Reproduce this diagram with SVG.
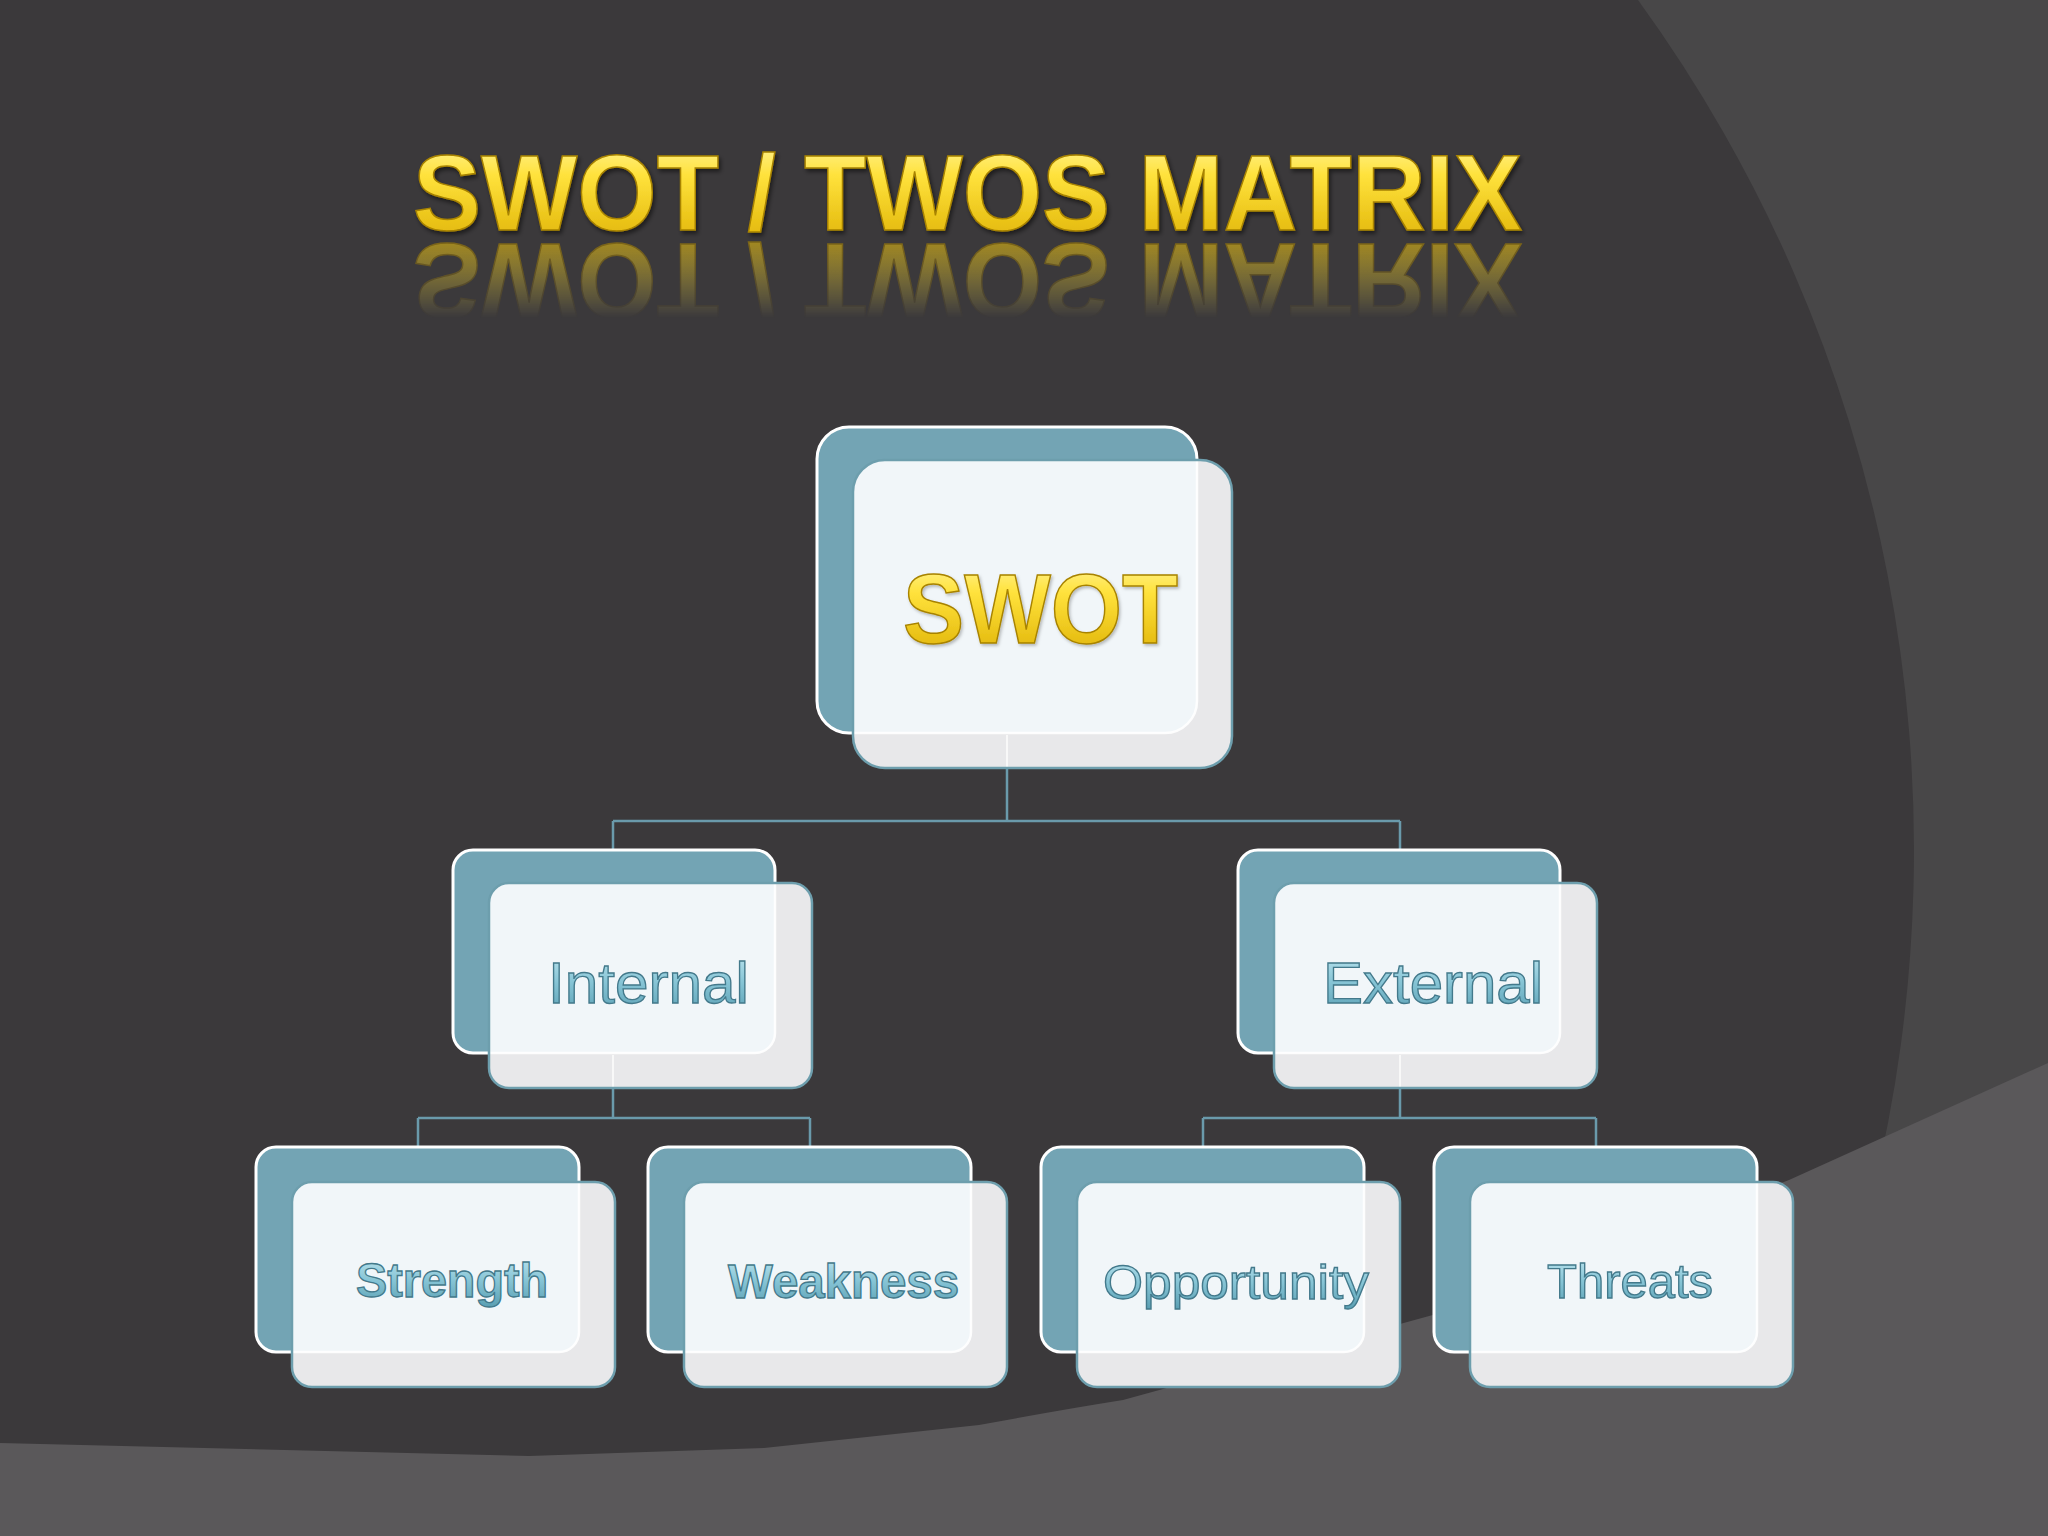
<svg xmlns="http://www.w3.org/2000/svg" width="2048" height="1536" viewBox="0 0 2048 1536">
<defs>
<style>
.back{fill:#73a4b4;stroke:#ffffff;stroke-width:3}
.front{fill:#e8e8ea}
.frontline{fill:none;stroke:#6d9ead;stroke-width:2.5}
.overlap{fill:#f1f6f9}
.edge{fill:none;stroke:#ffffff;stroke-width:2.5;opacity:0.9}
.thru{stroke:#ffffff;stroke-width:2;opacity:0.7}
.conn{fill:none;stroke:#6a9aab;stroke-width:2.5}
.gold{font-family:"Liberation Sans",Arial,sans-serif;font-weight:bold;fill:url(#goldGrad);stroke:#a88300;stroke-width:1.5}
.blue{font-family:"Liberation Sans",Arial,sans-serif;fill:url(#blueGrad);stroke:#43798b;stroke-width:1.3}
.bold{font-weight:bold}
</style>
<linearGradient id="goldGrad" x1="0" y1="0" x2="0" y2="1">
<stop offset="0" stop-color="#fff7a8"/>
<stop offset="0.35" stop-color="#ffe23c"/>
<stop offset="1" stop-color="#dcae00"/>
</linearGradient>
<linearGradient id="blueGrad" x1="0" y1="0" x2="0" y2="1">
<stop offset="0" stop-color="#bfe6f0"/>
<stop offset="0.5" stop-color="#86c4d5"/>
<stop offset="1" stop-color="#5a9fb3"/>
</linearGradient>
<linearGradient id="reflFade" gradientUnits="userSpaceOnUse" x1="0" y1="242" x2="0" y2="318">
<stop offset="0" stop-color="#ffffff" stop-opacity="0.6"/>
<stop offset="1" stop-color="#ffffff" stop-opacity="0"/>
</linearGradient>
<mask id="reflMask" maskUnits="userSpaceOnUse" x="0" y="0" width="2048" height="400">
<rect x="0" y="236" width="2048" height="100" fill="url(#reflFade)"/>
</mask>
<filter id="shadow" x="-5%" y="-20%" width="110%" height="150%">
<feDropShadow dx="2" dy="3" stdDeviation="2" flood-color="#000000" flood-opacity="0.5"/>
</filter>
<filter id="softShadow" x="-5%" y="-20%" width="110%" height="150%">
<feDropShadow dx="1.5" dy="2" stdDeviation="1.5" flood-color="#000000" flood-opacity="0.25"/>
</filter>
</defs>

<g id="background">
<rect x="0" y="0" width="2048" height="1536" fill="#3b393b"/>
<path d="M1638,0 A1447,1447 0 0 1 1871,1200 L2048,1200 L2048,0 Z" fill="#484748"/>
<path d="M0,1443 L529,1456 L764,1448 L979,1425 Q1060,1410 1123,1400 L1440,1313 L1789,1180 L2048,1063 L2048,1536 L0,1536 Z" fill="#5a585a"/>
</g>

<g id="title">
<text class="gold" x="413" y="230" font-size="107" textLength="1109" lengthAdjust="spacingAndGlyphs" filter="url(#shadow)">SWOT / TWOS MATRIX</text>
<g mask="url(#reflMask)">
<text class="gold" x="413" y="230" font-size="107" textLength="1109" lengthAdjust="spacingAndGlyphs" transform="translate(0,474) scale(1,-1)" stroke="none">SWOT / TWOS MATRIX</text>
</g>
</g>

<g id="connectors">
<path class="conn" d="M1007,768 V821 M613,821 H1400 M613,821 V850 M1400,821 V850"/>
<path class="conn" d="M613,1088 V1118 M418,1118 H810 M418,1118 V1147 M810,1118 V1147"/>
<path class="conn" d="M1400,1088 V1118 M1203,1118 H1596 M1203,1118 V1147 M1596,1118 V1147"/>
</g>

<g id="node-swot">
<rect class="back" x="817" y="427" width="380" height="306" rx="32"/>
<rect class="front" x="853" y="460" width="379" height="308" rx="32"/>
<path class="overlap" d="M853,492 A32,32 0 0 1 885,460 L1197,460 L1197,701 A32,32 0 0 1 1165,733 L853,733 Z"/>
<path class="edge" d="M1197,461 V701 A32,32 0 0 1 1165,733 H854"/>
<line class="thru" x1="1007" y1="735" x2="1007" y2="767"/>
<rect class="frontline" x="853" y="460" width="379" height="308" rx="32"/>
<text class="gold" x="903" y="643" font-size="98" textLength="275" lengthAdjust="spacingAndGlyphs" filter="url(#softShadow)">SWOT</text>
</g>

<g id="node-internal">
<rect class="back" x="453" y="850" width="322" height="203" rx="20"/>
<rect class="front" x="489" y="883" width="323" height="205" rx="20"/>
<path class="overlap" d="M489,903 A20,20 0 0 1 509,883 L775,883 L775,1033 A20,20 0 0 1 755,1053 L489,1053 Z"/>
<path class="edge" d="M775,884 V1033 A20,20 0 0 1 755,1053 H490"/>
<line class="thru" x1="613" y1="1055" x2="613" y2="1087"/>
<rect class="frontline" x="489" y="883" width="323" height="205" rx="20"/>
<text class="blue" x="548" y="1003" font-size="58" textLength="201" lengthAdjust="spacingAndGlyphs">Internal</text>
</g>

<g id="node-external">
<rect class="back" x="1238" y="850" width="322" height="203" rx="20"/>
<rect class="front" x="1274" y="883" width="323" height="205" rx="20"/>
<path class="overlap" d="M1274,903 A20,20 0 0 1 1294,883 L1560,883 L1560,1033 A20,20 0 0 1 1540,1053 L1274,1053 Z"/>
<path class="edge" d="M1560,884 V1033 A20,20 0 0 1 1540,1053 H1275"/>
<line class="thru" x1="1400" y1="1055" x2="1400" y2="1087"/>
<rect class="frontline" x="1274" y="883" width="323" height="205" rx="20"/>
<text class="blue" x="1323" y="1003" font-size="58" textLength="220" lengthAdjust="spacingAndGlyphs">External</text>
</g>

<g id="node-strength">
<rect class="back" x="256" y="1147" width="323" height="205" rx="20"/>
<rect class="front" x="292" y="1182" width="323" height="205" rx="20"/>
<path class="overlap" d="M292,1202 A20,20 0 0 1 312,1182 L579,1182 L579,1332 A20,20 0 0 1 559,1352 L292,1352 Z"/>
<path class="edge" d="M579,1183 V1332 A20,20 0 0 1 559,1352 H293"/>
<rect class="frontline" x="292" y="1182" width="323" height="205" rx="20"/>
<text class="blue bold" x="356" y="1297" font-size="47.5" textLength="192" lengthAdjust="spacingAndGlyphs">Strength</text>
</g>

<g id="node-weakness">
<rect class="back" x="648" y="1147" width="323" height="205" rx="20"/>
<rect class="front" x="684" y="1182" width="323" height="205" rx="20"/>
<path class="overlap" d="M684,1202 A20,20 0 0 1 704,1182 L971,1182 L971,1332 A20,20 0 0 1 951,1352 L684,1352 Z"/>
<path class="edge" d="M971,1183 V1332 A20,20 0 0 1 951,1352 H685"/>
<rect class="frontline" x="684" y="1182" width="323" height="205" rx="20"/>
<text class="blue bold" x="728" y="1298" font-size="47.5" textLength="231" lengthAdjust="spacingAndGlyphs">Weakness</text>
</g>

<g id="node-opportunity">
<rect class="back" x="1041" y="1147" width="323" height="205" rx="20"/>
<rect class="front" x="1077" y="1182" width="323" height="205" rx="20"/>
<path class="overlap" d="M1077,1202 A20,20 0 0 1 1097,1182 L1364,1182 L1364,1332 A20,20 0 0 1 1344,1352 L1077,1352 Z"/>
<path class="edge" d="M1364,1183 V1332 A20,20 0 0 1 1344,1352 H1078"/>
<rect class="frontline" x="1077" y="1182" width="323" height="205" rx="20"/>
<text class="blue" x="1103" y="1299" font-size="48" textLength="266" lengthAdjust="spacingAndGlyphs" stroke-width="1.8">Opportunity</text>
</g>

<g id="node-threats">
<rect class="back" x="1434" y="1147" width="323" height="205" rx="20"/>
<rect class="front" x="1470" y="1182" width="323" height="205" rx="20"/>
<path class="overlap" d="M1470,1202 A20,20 0 0 1 1490,1182 L1757,1182 L1757,1332 A20,20 0 0 1 1737,1352 L1470,1352 Z"/>
<path class="edge" d="M1757,1183 V1332 A20,20 0 0 1 1737,1352 H1471"/>
<rect class="frontline" x="1470" y="1182" width="323" height="205" rx="20"/>
<text class="blue" x="1547" y="1298" font-size="48" textLength="166" lengthAdjust="spacingAndGlyphs" stroke-width="1.8">Threats</text>
</g>
</svg>
